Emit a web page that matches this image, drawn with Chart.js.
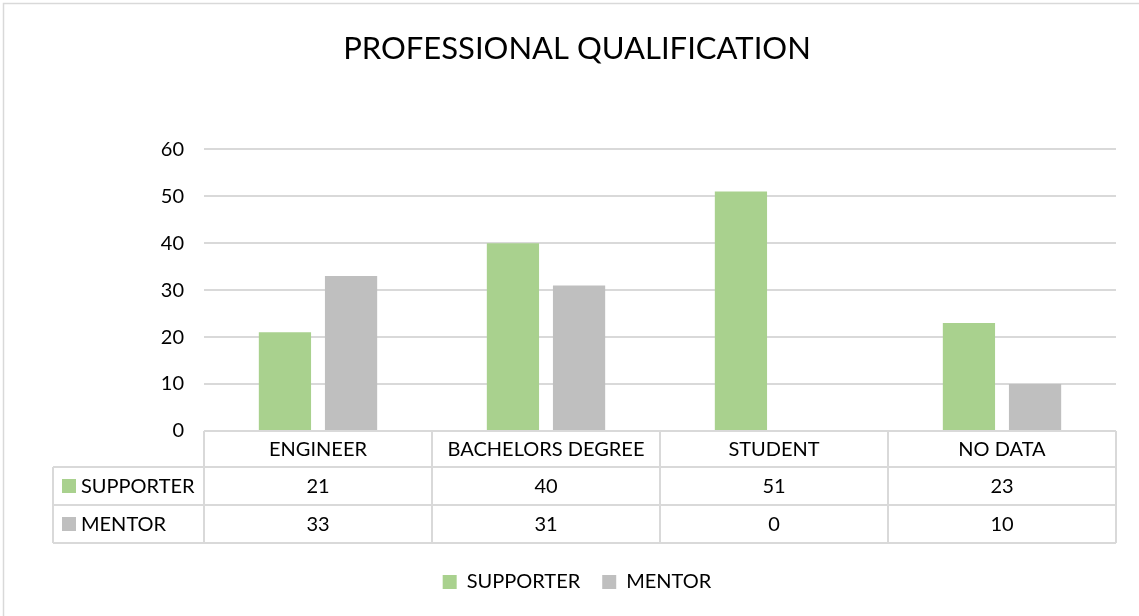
<!DOCTYPE html>
<html>
<head>
<meta charset="utf-8">
<script src="https://cdn.jsdelivr.net/npm/chart.js@4"></script>
<style>
  html, body { margin: 0; padding: 0; background: #fff; }
</style>
</head>
<body>
<canvas id="qualchart" width="1139" height="616"></canvas>
<script>
const categories = ['ENGINEER', 'BACHELORS DEGREE', 'STUDENT', 'NO DATA'];
const supporter = [21, 40, 51, 23];
const mentor = [33, 31, 0, 10];
const yTicks = [0, 10, 20, 30, 40, 50, 60];

const GREEN = '#A9D18E';
const GREY = '#BFBFBF';
const LINE = '#D9D9D9';
const FONT = 'Lato, "Open Sans", sans-serif';

// draws the data table under the bars + the outer frame
const dataTable = {
  id: 'dataTable',
  afterDraw(chart) {
    const c = chart.ctx;
    const x = chart.scales.x;
    const area = chart.chartArea;
    const colW = (area.right - area.left) / categories.length;
    const top = area.bottom;
    const rowH = [36, 38, 38];
    const r1 = top + rowH[0], r2 = r1 + rowH[1], r3 = r2 + rowH[2];
    const leftX = 53;

    c.save();
    // outer frame
    c.strokeStyle = LINE;
    c.lineWidth = 1.5;
    c.strokeRect(3.5, 3.5, 1200, 700);

    c.strokeStyle = LINE;
    c.lineWidth = 2;
    c.beginPath();
    c.moveTo(area.left, top); c.lineTo(area.right, top);
    [r1, r2, r3].forEach(y => { c.moveTo(leftX, y); c.lineTo(area.right, y); });
    c.moveTo(leftX, r1); c.lineTo(leftX, r3);
    for (let i = 0; i <= categories.length; i++) {
      const px = area.left + i * colW;
      c.moveTo(px, top); c.lineTo(px, r3);
    }
    c.stroke();

    c.fillStyle = '#000';
    c.font = '20px ' + FONT;
    c.textAlign = 'center';
    c.textBaseline = 'middle';
    categories.forEach((cat, i) => {
      const cx = x.getPixelForValue(i);
      c.fillText(cat, cx, (top + r1) / 2 + 1);
      c.fillText(String(supporter[i]), cx, (r1 + r2) / 2 + 1);
      c.fillText(String(mentor[i]), cx, (r2 + r3) / 2 + 1);
    });

    // row headers with colour keys
    const rows = [[chart.data.datasets[0], r1, r2], [chart.data.datasets[1], r2, r3]];
    c.textAlign = 'left';
    rows.forEach(([ds, a, b]) => {
      const my = (a + b) / 2;
      c.fillStyle = ds.backgroundColor;
      c.fillRect(62, my - 7, 14, 14);
      c.fillStyle = '#000';
      c.fillText(ds.label, 81, my + 1);
    });
    c.restore();
  }
};

new Chart(document.getElementById('qualchart'), {
  type: 'bar',
  data: {
    labels: categories,
    datasets: [
      { label: 'SUPPORTER', data: supporter, backgroundColor: GREEN, borderWidth: 0 },
      { label: 'MENTOR', data: mentor, backgroundColor: GREY, borderWidth: 0 }
    ]
  },
  plugins: [dataTable],
  options: {
    responsive: false,
    animation: false,
    devicePixelRatio: 1,
    categoryPercentage: 0.58,
    barPercentage: 0.79,
    layout: { padding: { left: 38, right: 23, top: 0, bottom: 14 } },
    plugins: {
      title: {
        display: true,
        text: 'PROFESSIONAL QUALIFICATION',
        color: '#000',
        font: { family: FONT, size: 31, weight: 'normal' },
        padding: { top: 30, bottom: 82 }
      },
      legend: {
        position: 'bottom',
        labels: {
          color: '#000',
          font: { family: FONT, size: 20 },
          boxWidth: 14,
          boxHeight: 14,
          padding: 22
        }
      },
      tooltip: { enabled: false }
    },
    scales: {
      x: {
        ticks: { display: false },
        grid: { display: false },
        border: { display: false },
        afterFit(scale) { scale.height = 119; }
      },
      y: {
        min: 0,
        max: 60,
        afterBuildTicks(scale) { scale.ticks = yTicks.map(v => ({ value: v })); },
        ticks: { color: '#000', font: { family: FONT, size: 20 }, padding: 20 },
        grid: { color: LINE, lineWidth: 2, drawTicks: false },
        border: { display: false },
        afterFit(scale) { scale.width = 166; }
      }
    }
  }
});
</script>
</body>
</html>
